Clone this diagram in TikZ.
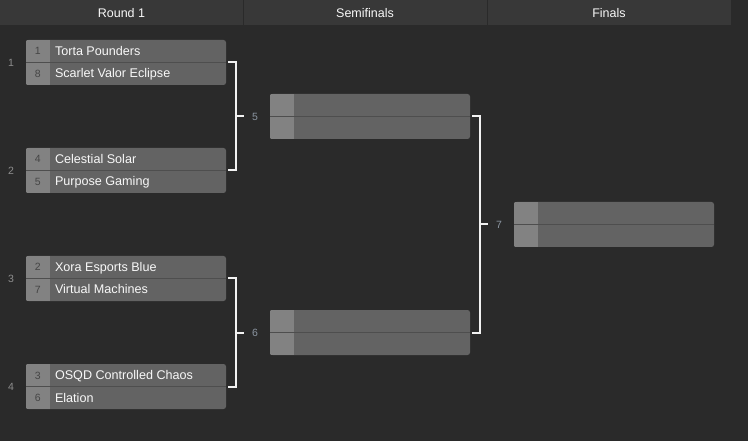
\documentclass[tikz,border=0pt]{standalone}
\usepackage{fontspec}
\setmainfont{Liberation Sans}
\usetikzlibrary{calc}
\definecolor{bg}{HTML}{2A2A2A}
\definecolor{headbg}{HTML}{383838}
\definecolor{boxgray}{HTML}{636363}
\definecolor{seedgray}{HTML}{828282}
\definecolor{rowline}{HTML}{4E4E4E}
\definecolor{conncol}{HTML}{F2F2F2}
\definecolor{namecol}{HTML}{F8F8F8}
\definecolor{seedtxt}{HTML}{454545}
\definecolor{roundtxt}{HTML}{8E8E8E}
\definecolor{matchtxt}{HTML}{8C96A2}
\tikzset{
  match/.style={rectangle, rounded corners=2.5pt, fill=boxgray, minimum width=200pt, minimum height=45pt, inner sep=0pt, draw=none},
  teamname/.style={anchor=base west, inner sep=0pt, text=namecol, font=\fontsize{12.6}{14}\selectfont},
  seednum/.style={anchor=base, inner sep=0pt, text=seedtxt, font=\fontsize{10.5}{12}\selectfont},
  roundlbl/.style={anchor=center, inner sep=0pt, text=roundtxt, font=\fontsize{10.5}{12}\selectfont},
  matchlbl/.style={anchor=center, inner sep=0pt, text=matchtxt, font=\fontsize{10.5}{12}\selectfont},
  headtxt/.style={anchor=center, inner sep=0pt, text=namecol, font=\fontsize{12.5}{14}\selectfont},
  conn/.style={draw=conncol, line width=2pt},
}
\newcommand{\matchbox}[2]{%
  \node[match] (#1) at #2 {};
  \begin{scope}
    \clip[rounded corners=2.5pt] (#1.north west) rectangle (#1.south east);
    \fill[seedgray] (#1.north west) rectangle ([xshift=24pt]#1.south west);
    \draw[rowline, line width=1pt] (#1.west) -- (#1.east);
  \end{scope}}
\begin{document}
\begin{tikzpicture}[x=1pt,y=-1pt]
\useasboundingbox (0,0) rectangle (748,441);
\fill[bg] (0,0) rectangle (748,441);
% header
\fill[headbg] (0,0) rectangle (731,25);
\draw[bg, line width=1pt] (243.5,0) -- (243.5,25);
\draw[bg, line width=1pt] (487.5,0) -- (487.5,25);
\node[headtxt] (h1) at (121.5,13) {Round 1};
\node[headtxt] (h2) at (365,13) {Semifinals};
\node[headtxt] (h3) at (609,13) {Finals};
% round 1 matches
\matchbox{m1}{(126,62.5)}
\matchbox{m2}{(126,170.5)}
\matchbox{m3}{(126,278.5)}
\matchbox{m4}{(126,386.5)}
% semifinals
\matchbox{m5}{(370,116.5)}
\matchbox{m6}{(370,332.5)}
% final
\matchbox{m7}{(614,224.5)}
% round labels
\node[roundlbl] (r1) at (11,62.5) {1};
\node[roundlbl] (r2) at (11,170.5) {2};
\node[roundlbl] (r3) at (11,278.5) {3};
\node[roundlbl] (r4) at (11,386.5) {4};
% seeds and names
\node[seednum] (s1a) at ([shift={(12,-7.5)}]m1.west) {1};
\node[seednum] (s1b) at ([shift={(12,15)}]m1.west) {8};
\node[teamname] (t1a) at ([shift={(29,-7)}]m1.west) {Torta Pounders};
\node[teamname] (t1b) at ([shift={(29,15.5)}]m1.west) {Scarlet Valor Eclipse};
\node[seednum] (s2a) at ([shift={(12,-7.5)}]m2.west) {4};
\node[seednum] (s2b) at ([shift={(12,15)}]m2.west) {5};
\node[teamname] (t2a) at ([shift={(29,-7)}]m2.west) {Celestial Solar};
\node[teamname] (t2b) at ([shift={(29,15.5)}]m2.west) {Purpose Gaming};
\node[seednum] (s3a) at ([shift={(12,-7.5)}]m3.west) {2};
\node[seednum] (s3b) at ([shift={(12,15)}]m3.west) {7};
\node[teamname] (t3a) at ([shift={(29,-7)}]m3.west) {Xora Esports Blue};
\node[teamname] (t3b) at ([shift={(29,15.5)}]m3.west) {Virtual Machines};
\node[seednum] (s4a) at ([shift={(12,-7.5)}]m4.west) {3};
\node[seednum] (s4b) at ([shift={(12,15)}]m4.west) {6};
\node[teamname] (t4a) at ([shift={(29,-7)}]m4.west) {OSQD Controlled Chaos};
\node[teamname] (t4b) at ([shift={(29,15.5)}]m4.west) {Elation};
% match labels
\node[matchlbl] (l5) at (255,117) {5};
\node[matchlbl] (l6) at (255,333) {6};
\node[matchlbl] (l7) at (499,225) {7};
% connectors
\draw[conn] ([xshift=2pt]m1.east) -- ++(8,0) |- ([xshift=2pt]m2.east);
\draw[conn] ($(m1.east)!0.5!(m2.east)+(9,0)$) -- ++(9,0);
\draw[conn] ([xshift=2pt]m3.east) -- ++(8,0) |- ([xshift=2pt]m4.east);
\draw[conn] ($(m3.east)!0.5!(m4.east)+(9,0)$) -- ++(9,0);
\draw[conn] ([xshift=2pt]m5.east) -- ++(8,0) |- ([xshift=2pt]m6.east);
\draw[conn] ($(m5.east)!0.5!(m6.east)+(9,0)$) -- ++(9,0);
\end{tikzpicture}
\end{document}
